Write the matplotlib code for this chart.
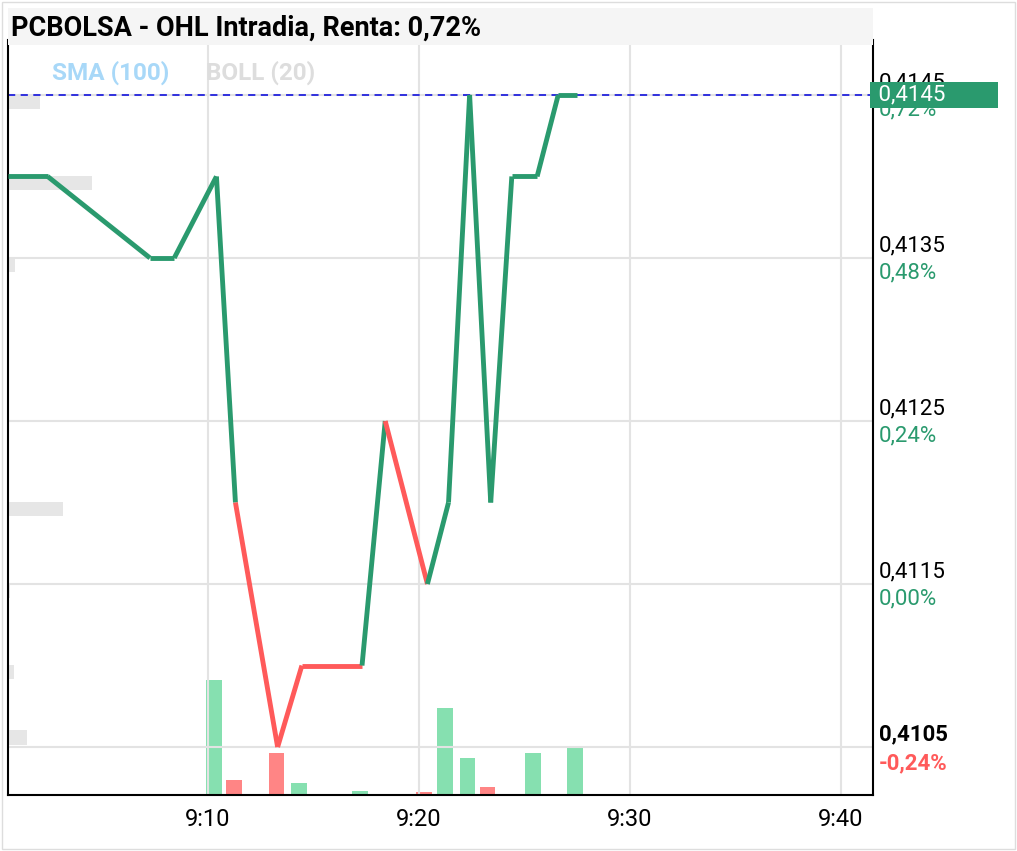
import matplotlib
matplotlib.use("Agg")
import matplotlib.pyplot as plt
from matplotlib.patches import Rectangle

plt.rcParams["font.family"] = "Roboto"

# data (minutes after 9:00)
t = [0.5, 2.4, 7.25, 8.4, 10.4, 11.3, 13.3, 14.45, 17.3, 18.4, 20.4, 21.4, 22.4, 23.4, 24.4, 25.6, 26.6, 27.5]
price = [0.4140, 0.4140, 0.4135, 0.4135, 0.4140, 0.4120, 0.4105, 0.4110, 0.4110, 0.4125,
         0.4115, 0.4120, 0.4145, 0.4120, 0.4140, 0.4140, 0.4145, 0.4145]
seg_up = [1, 1, 1, 1, 1, 0, 0, 0, 1, 0, 1, 1, 1, 1, 1, 1, 1]
vol_t = [10.3, 11.25, 13.25, 14.3, 17.2, 20.25, 21.25, 22.3, 23.25, 25.4, 27.4]
vol = [115, 15, 42, 12, 4, 3, 87, 37, 8, 42, 48]
vol_up = [1, 0, 0, 1, 1, 0, 1, 1, 0, 1, 1]
price_ticks = [0.4105, 0.4115, 0.4125, 0.4135, 0.4145]
pct_labels = ["-0,24%", "0,00%", "0,24%", "0,48%", "0,72%"]
time_ticks = [10, 20, 30, 40]
time_labels = ["9:10", "9:20", "9:30", "9:40"]
book_price = [0.41446, 0.41396, 0.41346, 0.41196, 0.41146, 0.41096, 0.41056]
book_size = [1.5, 4.0, 0.35, 2.6, 0.1, 0.3, 0.9]
last = 0.4145

GREEN = "#2a9a6e"
RED = "#ff5a5a"
X0 = 0.52

fig = plt.figure(figsize=(10.17, 8.51), dpi=100)
W, H = 1017, 851
fig.patches.append(Rectangle((2 / W, 2 / H), 1 - 4 / W, 1 - 4 / H, transform=fig.transFigure,
                             fill=False, edgecolor="#dddddd", lw=1))
fig.patches.append(Rectangle((8 / W, (H - 45) / H), 865 / W, 37 / H, transform=fig.transFigure,
                             facecolor="#f5f5f5", edgecolor="none"))
fig.text(11 / W, (H - 28) / H, "PCBOLSA - OHL Intradia, Renta: 0,72%", fontsize=19.5,
         fontweight="bold", va="center", ha="left")

ax = fig.add_axes([8 / W, 56 / H, 865 / W, 755 / H])
ax.set_xlim(X0, 41.52)
ax.set_ylim(0.410206, 0.414837)

axv = ax.twinx()
axv.set_ylim(0, 755)
axv.set_zorder(0)
ax.set_zorder(1)
ax.patch.set_visible(False)
axv.bar(vol_t, vol, width=0.75, color=["#86e0b0" if u else "#ff8585" for u in vol_up], zorder=1)
axv.set_yticks([])
for s in axv.spines.values():
    s.set_visible(False)

ax.barh(book_price, book_size, left=X0, height=0.00009, color="#e6e6e6", zorder=0)

for yv in price_ticks:
    ax.axhline(yv, color="#e3e3e3", lw=1.5, zorder=0)
for xv in time_ticks:
    ax.axvline(xv, color="#e3e3e3", lw=1.5, zorder=0)

for i in range(len(t) - 1):
    ax.plot(t[i:i + 2], price[i:i + 2], color=GREEN if seg_up[i] else RED, lw=3.5,
            solid_capstyle="butt", zorder=3)

ax.axhline(last, color="#2222dd", lw=1.3, ls=(0, (4, 3)), zorder=2)

ax.set_xticks(time_ticks)
ax.set_xticklabels(time_labels, fontsize=17)
ax.set_yticks([])
ax.tick_params(axis="x", length=0, pad=9)
ax.spines["top"].set_visible(False)
for side in ["left", "bottom", "right"]:
    ax.spines[side].set_color("black")
    ax.spines[side].set_linewidth(1.5)

tr = ax.get_yaxis_transform()
for yv, pl in zip(price_ticks, pct_labels):
    bold = yv == price_ticks[0]
    ax.text(1.007, yv + 0.00001, f"{yv:.4f}".replace(".", ","), transform=tr, fontsize=16,
            va="bottom", ha="left", fontweight="bold" if bold else "normal", color="black")
    ax.text(1.007, yv - 0.00003, pl, transform=tr, fontsize=16, va="top", ha="left",
            fontweight="bold" if bold else "normal", color=RED if bold else GREEN)

ax.text(1.0, last, " " + f"{last:.4f}".replace(".", ",") + "         ", transform=tr, fontsize=16,
        va="center", ha="left", color="white", zorder=10, clip_on=False,
        bbox=dict(boxstyle="square,pad=0.12", facecolor="#2a9a6e", edgecolor="none"))

fig.text(52 / W, (H - 73) / H, "SMA (100)", fontsize=17.5, fontweight="bold", color="#a8d8f8", va="center")
fig.text(206 / W, (H - 73) / H, "BOLL (20)", fontsize=17.5, fontweight="bold", color="#dddddd", va="center")

fig.savefig("out.png", dpi=100)
